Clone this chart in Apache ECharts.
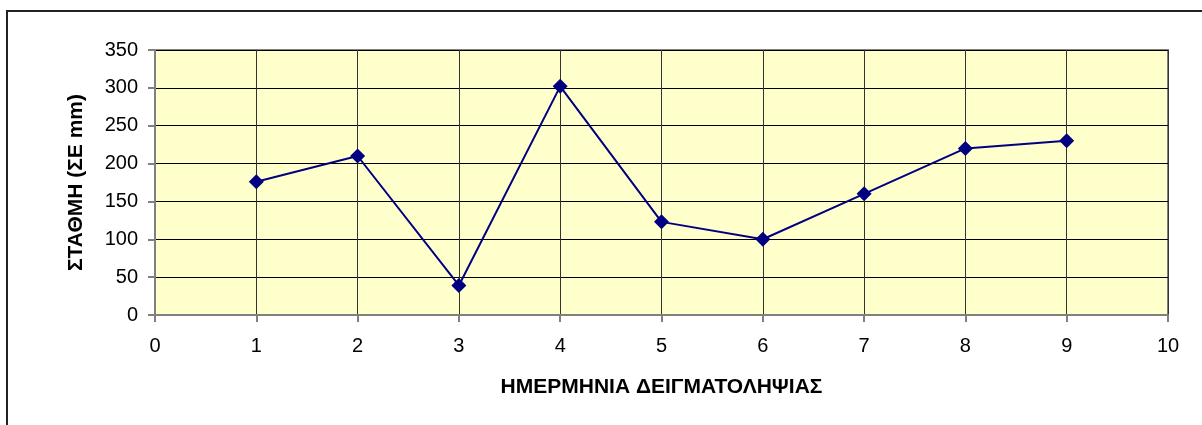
<!DOCTYPE html>
<html>
<head>
<meta charset="utf-8">
<script src="https://cdn.jsdelivr.net/npm/echarts@6/dist/echarts.min.js"></script>
<style>
  html, body { margin: 0; padding: 0; background: #ffffff; }
  #chart { width: 1202px; height: 425px; }
</style>
</head>
<body>
<div id="chart"></div>
<script>
// Sampling days and measured water level (mm)
const days = [1, 2, 3, 4, 5, 6, 7, 8, 9];
const levels = [176, 210, 39, 302, 123, 100, 160, 220, 230];
const xTicks = [0, 10, 1];      // min, max, interval
const yTicks = [0, 350, 50];    // min, max, interval
const xTitle = 'ΗΜΕΡΜΗΝΙΑ ΔΕΙΓΜΑΤΟΛΗΨΙΑΣ';
const yTitle = 'ΣΤΑΘΜΗ (ΣΕ mm)';

const font = '"Liberation Sans", Arial, sans-serif';
const chart = echarts.init(document.getElementById('chart'), null, { renderer: 'canvas' });

chart.setOption({
  animation: false,
  backgroundColor: '#ffffff',
  graphic: [{
    type: 'rect',
    silent: true,
    shape: { x: 7, y: 11, width: 1400, height: 600 },
    style: { fill: 'none', stroke: '#222', lineWidth: 2 }
  }],
  grid: {
    left: 155, right: 34, top: 50, bottom: 110,
    show: true,
    backgroundColor: '#FFFFCC',
    borderColor: '#808080',
    borderWidth: 2
  },
  xAxis: {
    type: 'value',
    min: xTicks[0], max: xTicks[1], interval: xTicks[2],
    name: xTitle,
    nameLocation: 'middle',
    nameGap: 62,
    nameTextStyle: { fontFamily: font, fontWeight: 'bold', fontSize: 21, color: '#000' },
    axisLine: { show: true, lineStyle: { color: '#808080', width: 2 } },
    axisTick: { show: true, length: 7, lineStyle: { color: '#808080', width: 2 } },
    axisLabel: { fontFamily: font, fontSize: 20, color: '#000', margin: 21 },
    splitLine: { show: true, lineStyle: { color: '#333', width: 1 } }
  },
  yAxis: {
    type: 'value',
    min: yTicks[0], max: yTicks[1], interval: yTicks[2],
    name: yTitle,
    nameLocation: 'middle',
    nameGap: 68,
    nameTextStyle: { fontFamily: font, fontWeight: 'bold', fontSize: 21, color: '#000' },
    axisLine: { show: true, lineStyle: { color: '#808080', width: 2 } },
    axisTick: { show: true, length: 7, lineStyle: { color: '#808080', width: 2 } },
    axisLabel: { fontFamily: font, fontSize: 20, color: '#000', margin: 17 },
    splitLine: { show: true, lineStyle: { color: '#000', width: 1 } }
  },
  series: [{
    type: 'line',
    data: days.map((d, i) => [d, levels[i]]),
    symbol: 'diamond',
    symbolSize: 15,
    itemStyle: { color: '#000080' },
    lineStyle: { color: '#000080', width: 2 }
  }]
});
</script>
</body>
</html>
